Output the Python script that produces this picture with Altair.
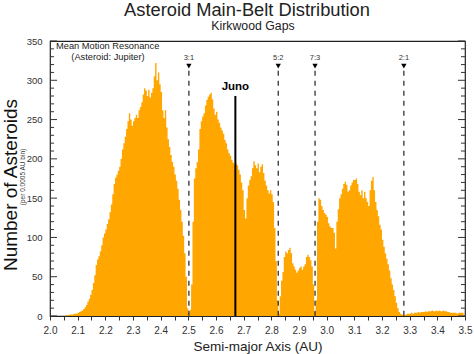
import altair as alt
import pandas as pd

# ---------------- data (0.005 AU bins starting at 2.000) -------------
counts_lead = [0] * 11 + [1, 1, 1, 2, 2, 2, 3, 3]
counts_inner = [
    3, 4, 5, 6, 7, 9, 11, 14, 18, 22,
    27, 33, 42, 52, 65, 72, 76, 82, 90, 100,
    105, 110, 117, 123, 132, 142, 155, 168, 176, 180,
    185, 190, 200, 212, 220, 228, 238, 248, 258, 250,
    242, 248, 252, 256, 252, 262, 266, 272, 282, 290,
    287, 280, 288, 278, 284, 290, 305, 322, 300, 310,
    295, 285, 262, 252, 262, 240, 225, 215, 205, 196,
    190, 180, 172, 162, 148, 135, 120, 102, 80, 50,
    10, 4,
]
counts_middle = [
    8, 40, 120, 175, 188, 196, 212, 238, 248, 254,
    258, 268, 275, 279, 282, 284, 276, 264, 256, 260,
    250, 246, 240, 236, 232, 224, 220, 212, 207, 204,
    199, 195, 192, 194, 192, 186, 180, 170, 160, 135,
    124, 150, 166, 173, 178, 188, 197, 192, 188, 194,
    183, 190, 193, 182, 172, 166, 160, 156, 160, 155,
    145, 112, 70, 20, 3,
]
counts_outer = [
    25, 45, 56, 75, 82, 80, 84, 87, 80, 67,
    63, 59, 55, 58, 61, 63, 59, 63, 66, 75,
    78, 75, 71, 63, 40, 5, 20, 120, 150, 148,
    140, 135, 131, 129, 126, 118, 114, 112, 112, 106,
    86, 120, 136, 150, 155, 162, 168, 171, 167, 158,
    160, 166, 170, 173, 173, 175, 168, 158, 154, 160,
    150, 158, 150, 145, 140, 160, 172, 177, 160, 145,
    135, 127, 116, 110, 97, 88, 80, 73, 66, 58,
    48, 40, 33, 25, 17, 10, 5, 3, 2, 1, 1,
]
counts_beyond = [
    2, 3, 3, 3, 4, 3, 4, 4, 4, 5,
    4, 5, 5, 5, 6, 5, 6, 6, 6, 7,
    6, 6, 7, 6, 7, 6, 6, 7, 6, 6,
    5, 5, 4, 4, 4, 4, 4, 3, 4, 4,
    4, 4, 4,
]

resonance_names = ["3:1", "5:2", "7:3", "2:1"]
resonance_a = [2.502, 2.825, 2.958, 3.279]
juno_a = 2.67
x_ticks = [round(2.0 + 0.05 * i, 2) for i in range(31)]
y_major = list(range(0, 351, 50))
y_minor = [v for v in range(0, 351, 10) if v % 50 != 0]

BIN = 0.005
counts = counts_lead + counts_inner + counts_middle + counts_outer + counts_beyond
hist = pd.DataFrame({
    "a": [round(2.0 + BIN * i, 4) for i in range(len(counts))],
    "n": counts,
})

W, H = 415, 275
ORANGE = "#FFA600"
FONT = "Liberation Sans"

xs = alt.Scale(domain=[2.0, 3.5], nice=False, zero=False)
ys = alt.Scale(domain=[0, 350], nice=False)

x_axis = alt.Axis(
    values=x_ticks, title="Semi-major Axis (AU)", grid=False, domain=False,
    tickSize=4, tickColor="#333", labelFont=FONT, labelFontSize=10,
    labelColor="#333", labelPadding=5, labelFlush=False, labelOverlap=False,
    labelExpr="abs(datum.value*10 - round(datum.value*10)) < 0.01 ? format(datum.value, '.1f') : ''",
    titleFont=FONT, titleFontSize=13.5, titleFontWeight="normal",
    titleColor="#222", titlePadding=4,
)
y_axis = alt.Axis(
    values=y_major, title=None, grid=False, domain=False, ticks=False,
    labelFont=FONT, labelFontSize=9.5, labelColor="#333", labelPadding=8,
    labelOverlap=False, labelFlush=False,
)


def X(field):
    return alt.X(field, scale=xs, axis=x_axis, title="Semi-major Axis (AU)")


def Y(field):
    return alt.Y(field, scale=ys, axis=y_axis, title=None)


def YD(v):
    return alt.YDatum(v, scale=ys, axis=y_axis, title=None)


area = alt.Chart(hist).mark_area(
    interpolate="step-after", color=ORANGE, clip=True
).encode(x=X("a:Q"), y=Y("n:Q"))

ymaj = pd.DataFrame({"v": y_major})
ymin = pd.DataFrame({"v": y_minor})


def yticks(df, x0, x1):
    return alt.Chart(df).mark_rule(color="#333", strokeWidth=1).encode(
        y=Y("v:Q"), x=alt.value(x0), x2=alt.value(x1),
    )


ticks = [
    yticks(ymaj, 0, 7), yticks(ymin, 0, 4),
    yticks(ymaj, W, W - 7), yticks(ymin, W, W - 4),
]

res = pd.DataFrame({"a": resonance_a, "name": resonance_names})
res_lines = alt.Chart(res).mark_rule(
    color="#333", strokeWidth=1.3, strokeDash=[5, 5]
).encode(x=X("a:Q"), y=YD(312), y2=alt.datum(0))
res_tri = alt.Chart(res).mark_point(
    shape="triangle-down", filled=True, color="black", size=28, opacity=1
).encode(x=X("a:Q"), y=YD(318))
res_txt = alt.Chart(res).mark_text(
    font=FONT, fontSize=7.5, color="#333", baseline="middle"
).encode(x=X("a:Q"), y=YD(328), text="name:N")

juno = pd.DataFrame({"a": [juno_a], "name": ["Juno"]})
juno_line = alt.Chart(juno).mark_rule(color="black", strokeWidth=2).encode(
    x=X("a:Q"), y=YD(280), y2=alt.datum(0),
)
juno_txt = alt.Chart(juno).mark_text(
    font=FONT, fontSize=11.5, fontWeight="bold", color="black", baseline="middle"
).encode(x=X("a:Q"), y=YD(292), text="name:N")

mmr1 = alt.Chart(pd.DataFrame({"t": ["Mean Motion Resonance"]})).mark_text(
    font=FONT, fontSize=9.3, color="#222", align="left", baseline="middle"
).encode(x=alt.value(6), y=alt.value(5), text="t:N")
mmr2 = alt.Chart(pd.DataFrame({"t": ["(Asteroid: Jupiter)"]})).mark_text(
    font=FONT, fontSize=9.3, color="#222", align="center", baseline="middle"
).encode(x=alt.value(58), y=alt.value(16), text="t:N")

title1 = alt.Chart(pd.DataFrame({"t": ["Asteroid Main-Belt Distribution"]})).mark_text(
    font=FONT, fontSize=18.3, color="#222", align="center", baseline="alphabetic"
).encode(x=alt.value(197), y=alt.value(-25.5), text="t:N")
title2 = alt.Chart(pd.DataFrame({"t": ["Kirkwood Gaps"]})).mark_text(
    font=FONT, fontSize=12.3, color="#222", align="center", baseline="alphabetic"
).encode(x=alt.value(203), y=alt.value(-11.5), text="t:N")

ytitle = alt.Chart(pd.DataFrame({"t": ["Number of Asteroids"]})).mark_text(
    font=FONT, fontSize=19, color="#111", align="center", baseline="middle", angle=270
).encode(x=alt.value(-39), y=alt.value(144), text="t:N")
ysub = alt.Chart(pd.DataFrame({"t": ["(per 0.0005 AU bin)"]})).mark_text(
    font=FONT, fontSize=6.5, color="#333", align="center", baseline="middle", angle=270
).encode(x=alt.value(-27), y=alt.value(136), text="t:N")

chart = alt.layer(
    area, *ticks, res_lines, res_tri, res_txt, juno_line, juno_txt,
    mmr1, mmr2, title1, title2, ytitle, ysub,
).properties(
    width=W, height=H,
    padding={"left": 50, "top": 41, "right": 9, "bottom": 38},
    autosize=alt.AutoSizeParams(type="none"),
    background="white",
).configure_view(
    stroke="#222", strokeWidth=1.2
).configure_axisY(labelOverlap=False)

chart.save("out.html", embed_options={"renderer": "svg", "actions": False})
